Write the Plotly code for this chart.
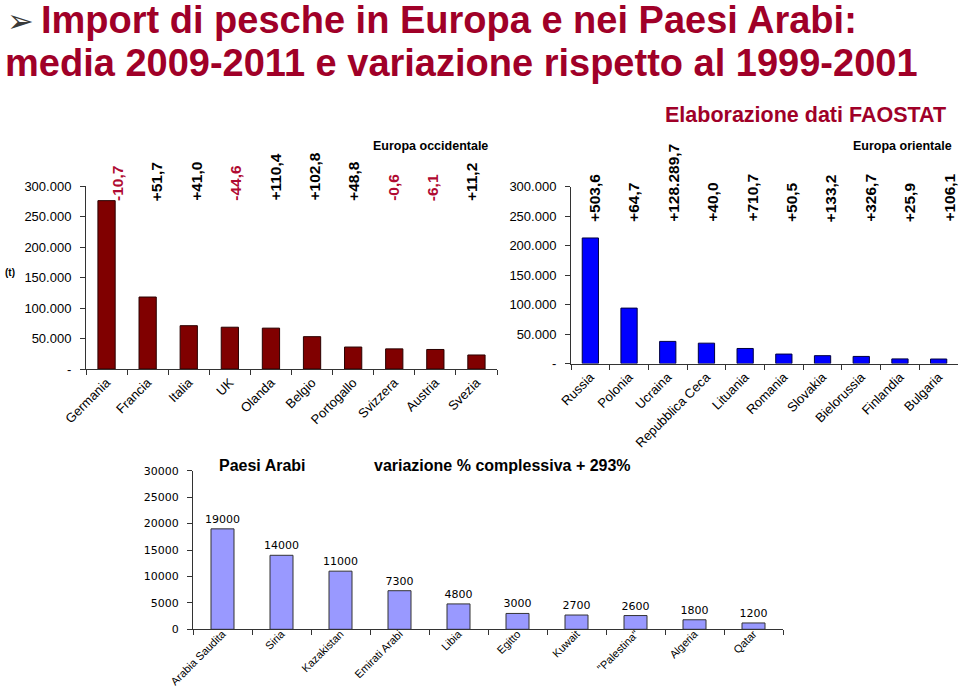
import plotly.graph_objects as go

# ---------------- data ----------------
west_countries = ["Germania", "Francia", "Italia", "UK", "Olanda", "Belgio",
                  "Portogallo", "Svizzera", "Austria", "Svezia"]
west_import = [276000, 118000, 71000, 68500, 67000, 53000, 36000, 33000, 32000, 23000]
west_change = ["-10,7", "+51,7", "+41,0", "-44,6", "+110,4", "+102,8",
               "+48,8", "-0,6", "-6,1", "+11,2"]

east_countries = ["Russia", "Polonia", "Ucraina", "Repubblica Ceca", "Lituania",
                  "Romania", "Slovakia", "Bielorussia", "Finlandia", "Bulgaria"]
east_import = [213000, 94000, 37500, 34500, 25500, 16000, 13300, 12000, 7800, 7600]
east_change = ["+503,6", "+64,7", "+128.289,7", "+40,0", "+710,7", "+50,5",
               "+133,2", "+326,7", "+25,9", "+106,1"]

arab_countries = ["Arabia Saudita", "Siria", "Kazakistan", "Emirati Arabi", "Libia",
                  "Egitto", "Kuwait", "\"Palestina\"", "Algeria", "Qatar"]
arab_import = [19000, 14000, 11000, 7300, 4800, 3000, 2700, 2600, 1800, 1200]

europe_tickvals = [0, 50000, 100000, 150000, 200000, 250000, 300000]
europe_ticktext = ["-", "50.000", "100.000", "150.000", "200.000", "250.000", "300.000"]
arab_tickvals = [0, 5000, 10000, 15000, 20000, 25000, 30000]
arab_ticktext = ["0", "5000", "10000", "15000", "20000", "25000", "30000"]

title_line1 = "Import di pesche in Europa e nei Paesi Arabi:"
title_line2 = "media 2009-2011 e variazione rispetto al 1999-2001"

# ---------------- style ----------------
W, H = 960, 688
FONT = "Liberation Sans, Arial, sans-serif"
WIDE = "DejaVu Sans, Verdana, sans-serif"
DARKRED = "#A00028"
NEGRED = "#B00A32"
AXIS = "#333333"


def px(x):
    return x / W


def py(y):
    return 1 - y / H


fig = go.Figure()

fig.add_trace(go.Bar(x=west_countries, y=west_import, xaxis="x", yaxis="y",
                     width=0.42, marker=dict(color="#800000", line=dict(color="#2a0000", width=1)),
                     hoverinfo="x+y"))
fig.add_trace(go.Bar(x=east_countries, y=east_import, xaxis="x2", yaxis="y2",
                     width=0.42, marker=dict(color="#0000FF", line=dict(color="#000040", width=1)),
                     hoverinfo="x+y"))
fig.add_trace(go.Bar(x=arab_countries, y=arab_import, xaxis="x3", yaxis="y3",
                     width=0.39, marker=dict(color="#9999FF", line=dict(color="#333333", width=1)),
                     text=[str(v) for v in arab_import], textposition="outside",
                     constraintext="none",
                     textfont=dict(family=WIDE, size=11, color="black"),
                     cliponaxis=False, hoverinfo="x+y"))

xcommon = dict(type="category", showline=True, linecolor=AXIS, linewidth=1,
               ticks="outside", tickson="boundaries", ticklen=5, tickcolor=AXIS,
               tickangle=-45, showgrid=False, range=[-0.5, 9.5], fixedrange=True,
               automargin=False)
ycommon = dict(showline=True, linecolor=AXIS, linewidth=1, ticks="outside",
               ticklen=5, tickcolor=AXIS, showgrid=False, zeroline=False,
               fixedrange=True, ticklabelstandoff=6, automargin=False)

fig.update_layout(
    width=W, height=H,
    margin=dict(l=0, r=0, t=0, b=0, pad=0, autoexpand=False),
    paper_bgcolor="white", plot_bgcolor="white",
    showlegend=False,
    font=dict(family=FONT, color="black"),
    xaxis=dict(domain=[px(86), px(497)], anchor="y",
               tickfont=dict(family=FONT, size=13, color="black"), **xcommon),
    yaxis=dict(domain=[py(369), py(186)], anchor="x", range=[0, 300000],
               tickvals=europe_tickvals, ticktext=europe_ticktext,
               tickfont=dict(family=FONT, size=13, color="black"), **ycommon),
    xaxis2=dict(domain=[px(571), px(958)], anchor="y2",
                tickfont=dict(family=FONT, size=13, color="black"), **xcommon),
    yaxis2=dict(domain=[py(363.5), py(186.7)], anchor="x2", range=[0, 300000],
                tickvals=europe_tickvals, ticktext=europe_ticktext,
                tickfont=dict(family=FONT, size=13, color="black"), **ycommon),
    xaxis3=dict(domain=[px(193), px(783)], anchor="y3", ticklabelstandoff=-7,
                tickfont=dict(family=FONT, size=11, color="black"), **xcommon),
    yaxis3=dict(domain=[py(629.3), py(470.7)], anchor="x3", range=[0, 30000],
                tickvals=arab_tickvals, ticktext=arab_ticktext,
                tickfont=dict(family=WIDE, size=11, color="black"), **ycommon),
)

ann = []
# title
ann.append(dict(text="➢", x=px(5), y=py(21), xref="paper", yref="paper",
                xanchor="left", yanchor="middle", showarrow=False,
                font=dict(family="DejaVu Sans", size=32, color="#3a3a3a")))
ann.append(dict(text="<b>" + title_line1 + "</b>", x=px(39), y=py(20), xref="paper", yref="paper",
                xanchor="left", yanchor="middle", showarrow=False,
                font=dict(family=FONT, size=38, color=DARKRED)))
ann.append(dict(text="<b>" + title_line2 + "</b>", x=px(3), y=py(63), xref="paper", yref="paper",
                xanchor="left", yanchor="middle", showarrow=False,
                font=dict(family=FONT, size=38, color=DARKRED)))
ann.append(dict(text="<b>Elaborazione dati FAOSTAT</b>", x=px(805), y=py(115), xref="paper",
                yref="paper", xanchor="center", yanchor="middle", showarrow=False,
                font=dict(family=FONT, size=21.5, color=DARKRED)))
ann.append(dict(text="<b>Europa occidentale</b>", x=px(430), y=py(146), xref="paper",
                yref="paper", xanchor="center", yanchor="middle", showarrow=False,
                font=dict(family=FONT, size=12.5, color="black")))
ann.append(dict(text="<b>Europa orientale</b>", x=px(954), y=py(146), xref="paper",
                yref="paper", xanchor="right", yanchor="middle", showarrow=False,
                font=dict(family=FONT, size=12.5, color="black")))
ann.append(dict(text="<b>(t)</b>", x=px(10), y=py(273), xref="paper", yref="paper",
                xanchor="center", yanchor="middle", showarrow=False,
                font=dict(family=FONT, size=10, color="black")))
ann.append(dict(text="<b>Paesi Arabi</b>", x=px(217), y=py(465), xref="paper", yref="paper",
                xanchor="left", yanchor="middle", showarrow=False,
                font=dict(family=FONT, size=16, color="black")))
ann.append(dict(text="<b>variazione % complessiva + 293%</b>", x=px(372), y=py(465),
                xref="paper", yref="paper", xanchor="left", yanchor="middle", showarrow=False,
                font=dict(family=FONT, size=16, color="black")))

# percent change labels
for i, t in enumerate(west_change):
    ann.append(dict(text="<b>" + t + "</b>", x=px(117.5 + i * 39.4), y=py(203),
                    xref="paper", yref="paper", xanchor="center", yanchor="bottom",
                    textangle=-90, showarrow=False,
                    font=dict(family=FONT, size=15.5,
                              color=NEGRED if t.startswith("-") else "black")))
for i, t in enumerate(east_change):
    ann.append(dict(text="<b>" + t + "</b>", x=px(594 + i * 39.4), y=py(224),
                    xref="paper", yref="paper", xanchor="center", yanchor="bottom",
                    textangle=-90, showarrow=False,
                    font=dict(family=FONT, size=15.5,
                              color=NEGRED if t.startswith("-") else "black")))

fig.update_layout(annotations=ann)

fig.write_html("out.html", post_script="document.body.style.margin='0';",
               config={"displayModeBar": False})
